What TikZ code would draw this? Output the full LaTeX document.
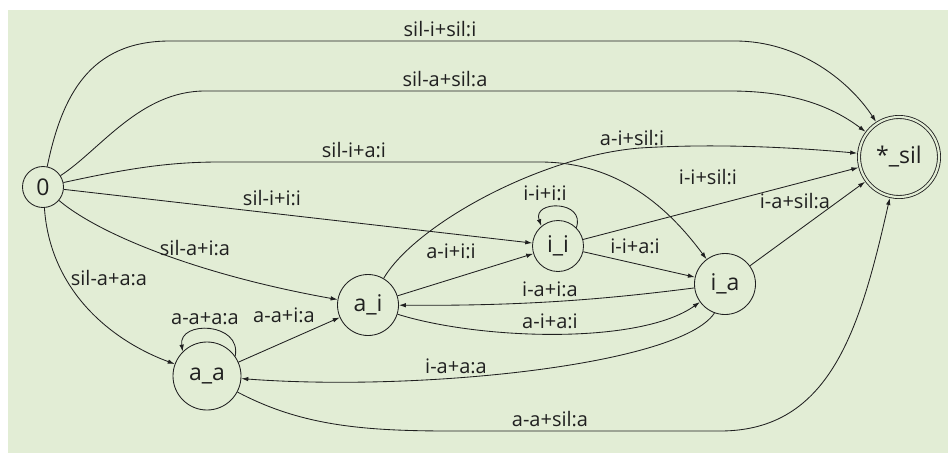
\documentclass[tikz,border=0pt]{standalone}
\usepackage{fontspec}
\setmainfont{Open Sans}
\usetikzlibrary{arrows.meta}
\definecolor{bggreen}{RGB}{226,237,213}
\definecolor{ink}{RGB}{32,32,32}
\begin{document}
\begin{tikzpicture}[x=1pt,y=-1pt,
  state/.style={circle,draw=ink,line width=0.85pt,inner sep=0pt,text=ink,font=\fontsize{23}{25}\selectfont},
  lbl/.style={anchor=base,inner sep=0pt,text=ink,font=\fontsize{20}{22}\selectfont},
  edge/.style={draw=ink,line width=0.85pt,-{Latex[length=7pt,width=4.5pt]}}]
\useasboundingbox (0,0) rectangle (948,455);
\fill[bggreen] (8,10) rectangle (948,453);
% states
\node[state,minimum size=41pt] (s0) at (43,187) {0};
\node[state,minimum size=80pt,double=bggreen,double distance=2.2pt,outer sep=2pt] (sil) at (899,157) {*\_sil};
\node[state,minimum size=51pt] (ii) at (558,246) {i\_i};
\node[state,minimum size=61pt] (ia) at (725,284) {i\_a};
\node[state,minimum size=61pt] (ai) at (368,305) {a\_i};
\node[state,minimum size=68pt] (aa) at (207,376) {a\_a};
% edges
\path[edge] (s0) .. controls (62,95) and (90,41) .. (170,41) -- (735,41) .. controls (800,41) and (850,82) .. (sil);
\path[edge] (s0) .. controls (100,150) and (140,91) .. (205,91) -- (730,91) .. controls (790,91) and (830,105) .. (sil);
\path[edge] (s0) .. controls (130,168) and (170,162) .. (220,162) -- (540,162) .. controls (620,162) and (670,210) .. (ia);
\path[edge] (s0) -- (ii);
\path[edge] (s0) .. controls (100,235) and (200,275) .. (ai);
\path[edge] (s0) .. controls (50,290) and (110,340) .. (aa);
\path[edge] (aa.35) .. controls (242,322) and (178,320) .. (aa.135);
\path[edge] (aa) -- (ai);
\path[edge] (ai) -- (ii);
\path[edge] (ai) .. controls (415,225) and (540,156) .. (640,148) .. controls (720,143) and (800,148) .. (sil);
\path[edge] (ii.45) .. controls (586,200) and (532,200) .. (ii.130);
\path[edge] (ii) -- (sil);
\path[edge] (ii) -- (ia);
\path[edge] (ia) .. controls (600,300) and (520,306) .. (ai);
\path[edge] (ai) .. controls (480,340) and (640,345) .. (ia);
\path[edge] (ia.250) .. controls (680,365) and (420,392) .. (aa);
\path[edge] (ia) -- (sil);
\path[edge] (aa) .. controls (300,425) and (360,431) .. (450,431) -- (720,431) .. controls (830,431) and (860,330) .. (sil);
% labels
\node[lbl] (l1) at (440,36) {sil-i+sil:i};
\node[lbl] (l2) at (445,86) {sil-a+sil:a};
\node[lbl] (l3) at (354,157) {sil-i+a:i};
\node[lbl] (l4) at (272,205) {sil-i+i:i};
\node[lbl] (l5) at (195,255) {sil-a+i:a};
\node[lbl] (l6) at (109,285) {sil-a+a:a};
\node[lbl] (l7) at (205,324) {a-a+a:a};
\node[lbl] (l8) at (284,322) {a-a+i:a};
\node[lbl] (l9) at (451,258) {a-i+i:i};
\node[lbl] (l10) at (632,145) {a-i+sil:i};
\node[lbl] (l11) at (545,200) {i-i+i:i};
\node[lbl] (l12) at (708,184) {i-i+sil:i};
\node[lbl] (l13) at (795,208) {i-a+sil:a};
\node[lbl] (l14) at (635,253) {i-i+a:i};
\node[lbl] (l15) at (550,296) {i-a+i:a};
\node[lbl] (l16) at (550,328) {a-i+a:i};
\node[lbl] (l17) at (456,373) {i-a+a:a};
\node[lbl] (l18) at (550,426) {a-a+sil:a};
\end{tikzpicture}
\end{document}
